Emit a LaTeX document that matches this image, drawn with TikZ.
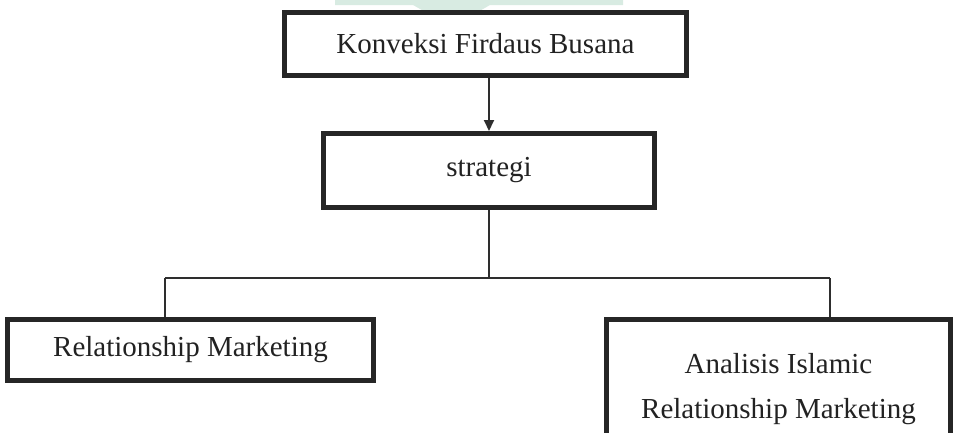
\documentclass[tikz,border=0pt]{standalone}
\usepackage{fontspec}
\setmainfont{Liberation Serif}
\usetikzlibrary{arrows.meta}
\definecolor{boxline}{HTML}{262626}
\definecolor{connline}{HTML}{2E2E2E}
\definecolor{txt}{HTML}{222222}
\definecolor{wmark}{HTML}{D8EBE2}
\tikzset{
  stagebox/.style={draw=boxline, line width=5pt, fill=white, inner sep=0pt,
    align=center, text=txt, font=\fontsize{29}{45}\selectfont},
  conn/.style={draw=connline, line width=1.5pt},
  arrowconn/.style={draw=connline, line width=2pt, -{Triangle[width=10pt,length=11pt]}}
}
\begin{document}
\begin{tikzpicture}[x=1pt,y=-1pt]
\clip (0,0) rectangle (954,432);
\useasboundingbox (0,0) rectangle (954,432);
% faint watermark
\fill[wmark] (335,0) -- (623,0) -- (623,5) -- (490,5) -- (452,27) -- (413,5) -- (335,5) -- cycle;
% boxes
\node[stagebox, minimum width=402pt, minimum height=63pt] (top) at (485.5,44) {Konveksi Firdaus Busana};
\node[stagebox, minimum width=331pt, minimum height=74pt] (strat) at (489,170.5) {strategi};
\node[stagebox, minimum width=366pt, minimum height=61pt] (left) at (190.5,350) {Relationship Marketing};
\node[stagebox, minimum width=344pt, minimum height=132pt, text depth=0pt] (right) at (778.5,385.5) {Analisis Islamic\\Relationship Marketing};
% connectors
\coordinate (j) at (489,278);
\coordinate (lj) at (165,278);
\coordinate (rj) at (830,278);
\draw[arrowconn] (strat.north |- top.south) -- (strat.north);
\draw[conn] (strat.south) -- (j);
\draw[conn] (lj) -- (rj);
\draw[conn] (lj) -- (lj |- left.north);
\draw[conn] (rj) -- (rj |- right.north);
\end{tikzpicture}
\end{document}
